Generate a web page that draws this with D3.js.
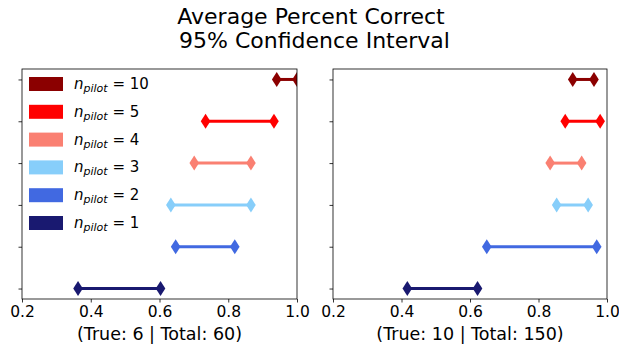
<!DOCTYPE html>
<html>
<head>
<meta charset="utf-8">
<script src="https://cdn.jsdelivr.net/npm/d3@7"></script>
<style>
  body { margin: 0; background: #fff; }
  svg { font-family: "DejaVu Sans", sans-serif; }
</style>
</head>
<body>
<svg id="chart" width="619" height="347"></svg>
<script>
// pilot sizes, bottom to top
var pilots = [1, 2, 3, 4, 5, 10];
var colors = ["midnightblue", "royalblue", "lightskyblue", "salmon", "red", "darkred"];

// 95% CI bounds, left panel (True: 6 | Total: 60)
var leftLow  = [0.363, 0.647, 0.633, 0.701, 0.734, 0.941];
var leftHigh = [0.603, 0.819, 0.866, 0.866, 0.933, 1.0];
// right panel (True: 10 | Total: 150)
var rightLow  = [0.417, 0.649, 0.853, 0.834, 0.878, 0.900];
var rightHigh = [0.622, 0.970, 0.945, 0.926, 0.980, 0.962];

var xTicks = [0.2, 0.4, 0.6, 0.8, 1.0];
var panelLabels = ["(True: 6 | Total: 60)", "(True: 10 | Total: 150)"];

var svg = d3.select("#chart");

// Title, two lines
var title = svg.append("text")
  .attr("text-anchor", "middle")
  .attr("font-size", 22)
  .attr("fill", "#000")
  .style("white-space", "pre");
title.append("tspan").attr("x", 311).attr("y", 24).text("Average Percent Correct");
title.append("tspan").attr("x", 311).attr("y", 48).text(" 95% Confidence Interval");

var plotTop = 69, plotBottom = 299;

var y = d3.scaleLinear().domain([-0.25, 5.25]).range([plotBottom, plotTop]);

var panels = [
  {left: 22, right: 297, low: leftLow, high: leftHigh, label: panelLabels[0]},
  {left: 333, right: 607, low: rightLow, high: rightHigh, label: panelLabels[1]}
];

// diamond marker path
function diamond(cx, cy) {
  var w = 4.8, h = 7.5;
  return "M" + cx + "," + (cy - h) + "L" + (cx + w) + "," + cy + "L" + cx + "," + (cy + h) + "L" + (cx - w) + "," + cy + "Z";
}

panels.forEach(function (p, pi) {
  var x = d3.scaleLinear().domain([0.2, 1.0]).range([p.left, p.right]);
  var g = svg.append("g");

  var clipId = "clip" + pi;
  svg.append("clipPath").attr("id", clipId)
    .append("rect")
    .attr("x", p.left).attr("y", plotTop)
    .attr("width", p.right - p.left).attr("height", plotBottom - plotTop);

  var marks = g.append("g").attr("clip-path", "url(#" + clipId + ")");

  pilots.forEach(function (n, i) {
    var cy = y(i);
    marks.append("line")
      .attr("x1", x(p.low[i])).attr("x2", x(p.high[i]))
      .attr("y1", cy).attr("y2", cy)
      .attr("stroke", colors[i])
      .attr("stroke-width", 3);
    [p.low[i], p.high[i]].forEach(function (v) {
      marks.append("path")
        .attr("d", diamond(x(v), cy))
        .attr("fill", colors[i]);
    });
  });

  // frame
  g.append("rect")
    .attr("x", p.left).attr("y", plotTop)
    .attr("width", p.right - p.left).attr("height", plotBottom - plotTop)
    .attr("fill", "none").attr("stroke", "#000").attr("stroke-width", 0.8);

  // x axis
  var xAxis = d3.axisBottom(x).tickValues(xTicks).tickFormat(d3.format(".1f"))
    .tickSize(3.5).tickPadding(3);
  var ax = g.append("g").attr("transform", "translate(0," + plotBottom + ")").call(xAxis);
  ax.attr("font-size", 15.5).attr("font-family", "DejaVu Sans");
  ax.select(".domain").remove();
  ax.selectAll("text").attr("fill", "#000");
  ax.selectAll("line").attr("stroke", "#000").attr("stroke-width", 0.8);

  // y axis ticks, no labels
  var yAxis = d3.axisLeft(y).tickValues(d3.range(pilots.length)).tickFormat("").tickSize(3.5);
  var ay = g.append("g").attr("transform", "translate(" + p.left + ",0)").call(yAxis);
  ay.select(".domain").remove();
  ay.selectAll("line").attr("stroke", "#000").attr("stroke-width", 0.8);

  // x label
  g.append("text")
    .attr("x", (p.left + p.right) / 2).attr("y", 340)
    .attr("text-anchor", "middle")
    .attr("font-size", 17.5)
    .attr("fill", "#000")
    .text(p.label);
});

// Legend, top entry is n=10
var legend = svg.append("g");
var order = d3.range(pilots.length).reverse();
order.forEach(function (i, k) {
  var cy = 84 + k * 27.8;
  legend.append("rect")
    .attr("x", 29).attr("y", cy - 7)
    .attr("width", 34).attr("height", 14)
    .attr("fill", colors[i]);
  var t = legend.append("text")
    .attr("x", 74).attr("y", cy + 5)
    .attr("font-size", 15)
    .attr("fill", "#000");
  t.append("tspan").attr("font-style", "italic").text("n");
  t.append("tspan").attr("font-style", "italic").attr("font-size", 11).attr("dy", 3).text("pilot");
  t.append("tspan").attr("dy", -3).text(" = " + pilots[i]);
});
</script>
</body>
</html>
